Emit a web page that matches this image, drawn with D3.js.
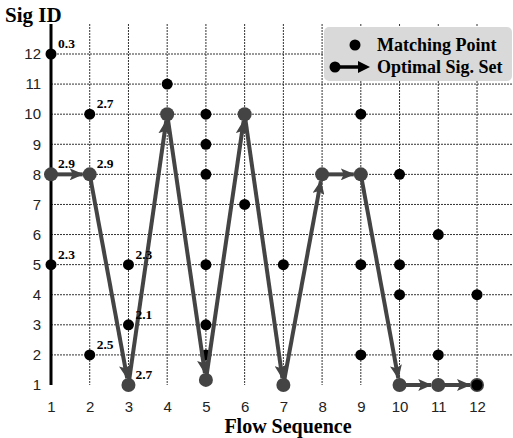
<!DOCTYPE html>
<html>
<head>
<meta charset="utf-8">
<script src="https://cdn.jsdelivr.net/npm/d3@7"></script>
<style>
  body { margin: 0; background: #fff; }
  .tick text { font-family: "Liberation Sans", Arial, sans-serif; font-size: 15px; fill: #222; }
  .lbl { font-family: "Liberation Serif", "Times New Roman", serif; font-weight: bold; }
</style>
</head>
<body>
<div></div>
<script>
// flow sequence positions and sig id ticks
var flows = [1, 2, 3, 4, 5, 6, 7, 8, 9, 10, 11, 12];
var sigTicks = [1, 2, 3, 4, 5, 6, 7, 8, 9, 10, 11, 12];

// matching points [flow, sig]
var matchFlow = [1, 1, 2, 2, 3, 3, 4, 5, 5, 5, 5, 5, 5, 6, 7, 9, 9, 9, 9, 10, 10, 10, 11, 11, 12, 12];
var matchSig  = [12, 5, 10, 2, 5, 3, 11, 10, 9, 8, 5, 3, 2, 7, 5, 10, 8, 5, 2, 8, 5, 4, 6, 2, 4, 1];

// optimal signature set path
var pathFlow = [1, 2, 3, 4, 5, 6, 7, 8, 9, 10, 11, 12];
var pathSig  = [8, 8, 1, 10, 1.17, 10, 1, 8, 8, 1, 1, 1];

// value labels
var labelFlow = [1, 2, 1, 2, 1, 3, 3, 2, 3];
var labelSig  = [12, 10, 8, 8, 5, 5, 3, 2, 1];
var labelText = ["0.3", "2.7", "2.9", "2.9", "2.3", "2.3", "2.1", "2.5", "2.7"];

var width = 513, height = 438;

var x = d3.scaleLinear().domain([1, 12]).range([51, 477]);
var y = d3.scaleLinear().domain([1, 12]).range([385, 54]);

var svg = d3.select("div").append("svg")
    .attr("width", width)
    .attr("height", height);

var defs = svg.append("defs");
defs.append("marker")
    .attr("id", "arrow")
    .attr("markerUnits", "userSpaceOnUse")
    .attr("viewBox", "0 0 14 12")
    .attr("refX", 13)
    .attr("refY", 6)
    .attr("markerWidth", 14)
    .attr("markerHeight", 12)
    .attr("orient", "auto")
  .append("path")
    .attr("d", "M0,0 L14,6 L0,12 L3,6 Z")
    .attr("fill", "#444");

// grid
svg.append("g").selectAll("line")
    .data(flows.slice(1))
  .enter().append("line")
    .attr("x1", function(d) { return x(d); })
    .attr("x2", function(d) { return x(d); })
    .attr("y1", 24)
    .attr("y2", y(1))
    .attr("stroke", "#333")
    .attr("stroke-width", 1)
    .attr("stroke-dasharray", "2,1");

svg.append("g").selectAll("line")
    .data(sigTicks.slice(1))
  .enter().append("line")
    .attr("x1", x(1))
    .attr("x2", width)
    .attr("y1", function(d) { return y(d); })
    .attr("y2", function(d) { return y(d); })
    .attr("stroke", "#333")
    .attr("stroke-width", 1)
    .attr("stroke-dasharray", "2,1");

// y axis line
svg.append("line")
    .attr("x1", x(1)).attr("x2", x(1))
    .attr("y1", 24).attr("y2", y(1))
    .attr("stroke", "#000")
    .attr("stroke-width", 3);

// tick labels
var yAxis = svg.append("g")
    .attr("transform", "translate(" + (x(1) - 2) + ",0)")
    .call(d3.axisLeft(y).tickValues(sigTicks).tickSize(0).tickPadding(8));
yAxis.select(".domain").remove();

var xAxis = svg.append("g")
    .attr("transform", "translate(0," + (y(1) + 9) + ")")
    .call(d3.axisBottom(x).tickValues(flows).tickSize(0).tickPadding(7));
xAxis.select(".domain").remove();

// matching points
svg.append("g").selectAll("circle")
    .data(matchFlow)
  .enter().append("circle")
    .attr("cx", function(d) { return x(d); })
    .attr("cy", function(d, i) { return y(matchSig[i]); })
    .attr("r", 5.5)
    .attr("fill", "#000");

// optimal path arrows
var pts = pathFlow.map(function(d, i) { return [x(d), y(pathSig[i])]; });
var rad = 7;
var segs = [];
for (var i = 0; i < pts.length - 1; i++) {
  var a = pts[i], b = pts[i + 1];
  var dx = b[0] - a[0], dy = b[1] - a[1];
  var len = Math.sqrt(dx * dx + dy * dy);
  segs.push([a[0], a[1], b[0] - dx / len * rad, b[1] - dy / len * rad]);
}
svg.append("g").selectAll("line")
    .data(segs)
  .enter().append("line")
    .attr("x1", function(d) { return d[0]; })
    .attr("y1", function(d) { return d[1]; })
    .attr("x2", function(d) { return d[2]; })
    .attr("y2", function(d) { return d[3]; })
    .attr("stroke", "#444")
    .attr("stroke-width", 4)
    .attr("marker-end", "url(#arrow)");

svg.append("g").selectAll("circle")
    .data(pts)
  .enter().append("circle")
    .attr("cx", function(d) { return d[0]; })
    .attr("cy", function(d) { return d[1]; })
    .attr("r", rad)
    .attr("fill", "#444");

// last point is also a matching point
svg.append("circle")
    .attr("cx", x(12)).attr("cy", y(1))
    .attr("r", 5.5).attr("fill", "#000");

// value labels
svg.append("g").selectAll("text")
    .data(labelText)
  .enter().append("text")
    .attr("class", "lbl")
    .attr("x", function(d, i) { return x(labelFlow[i]) + 7; })
    .attr("y", function(d, i) { return y(labelSig[i]) - 6; })
    .attr("font-size", 13.5)
    .text(function(d) { return d; });

// titles
svg.append("text")
    .attr("class", "lbl")
    .attr("x", 5).attr("y", 22)
    .attr("font-size", 21)
    .text("Sig ID");

svg.append("text")
    .attr("class", "lbl")
    .attr("x", 288).attr("y", 433)
    .attr("text-anchor", "middle")
    .attr("font-size", 20)
    .text("Flow Sequence");

// legend
var lg = svg.append("g");
lg.append("rect")
    .attr("x", 324).attr("y", 27)
    .attr("width", 188).attr("height", 54)
    .attr("rx", 5)
    .attr("fill", "#d9d9d9");
lg.append("circle")
    .attr("cx", 355).attr("cy", 45)
    .attr("r", 5.5).attr("fill", "#000");
lg.append("line")
    .attr("x1", 334).attr("y1", 67)
    .attr("x2", 364).attr("y2", 67)
    .attr("stroke", "#000").attr("stroke-width", 3.5);
lg.append("path")
    .attr("d", "M358,61 L370,67 L358,73 Z")
    .attr("fill", "#000");
lg.append("circle")
    .attr("cx", 335).attr("cy", 67)
    .attr("r", 5.5).attr("fill", "#000");
lg.append("text")
    .attr("class", "lbl")
    .attr("x", 377).attr("y", 51)
    .attr("font-size", 18)
    .text("Matching Point");
lg.append("text")
    .attr("class", "lbl")
    .attr("x", 377).attr("y", 73)
    .attr("font-size", 18)
    .text("Optimal Sig. Set");
</script>
</body>
</html>
